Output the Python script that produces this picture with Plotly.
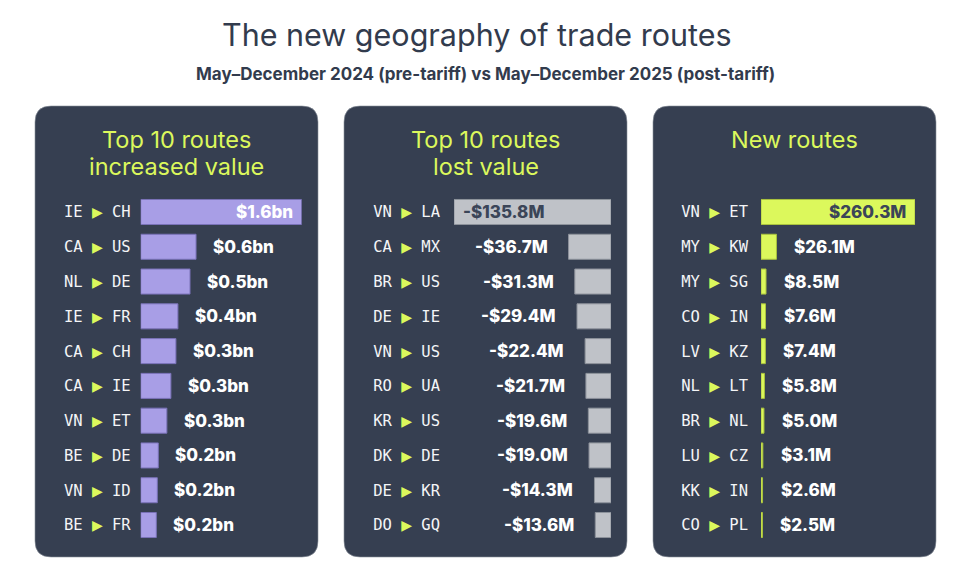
import plotly.graph_objects as go

W, H = 974, 584

# data
inc_from = ["IE", "CA", "NL", "IE", "CA", "CA", "VN", "BE", "VN", "BE"]
inc_to = ["CH", "US", "DE", "FR", "CH", "IE", "ET", "DE", "ID", "FR"]
inc_value_bn = [1.6, 0.55, 0.49, 0.37, 0.35, 0.30, 0.26, 0.175, 0.165, 0.155]

lost_from = ["VN", "CA", "BR", "DE", "VN", "RO", "KR", "DK", "DE", "DO"]
lost_to = ["LA", "MX", "US", "IE", "US", "UA", "US", "DE", "KR", "GQ"]
lost_value_m = [135.8, 36.7, 31.3, 29.4, 22.4, 21.7, 19.6, 19.0, 14.3, 13.6]

new_from = ["VN", "MY", "MY", "CO", "LV", "NL", "BR", "LU", "KK", "CO"]
new_to = ["ET", "KW", "SG", "IN", "KZ", "LT", "NL", "CZ", "IN", "PL"]
new_value_m = [260.3, 26.1, 8.5, 7.6, 7.4, 5.8, 5.0, 3.1, 2.6, 2.5]

PANEL_BG = "#363f51"
INK = "#323b4d"
LIME = "#dcf85c"
PURPLE = "#a89ee6"
GREY = "#bfc2c8"
VALUE_FONT = dict(family="Inter, Open Sans, sans-serif", size=17, weight=800)


def px_x(p):
    return p / W


def px_y(p):
    return 1 - p / H


def rounded_rect(x0, y0, x1, y1, r):
    # pixel coords in, paper-coord svg path out
    rx, ry = r / W, r / H
    a, b, c, d = px_x(x0), px_y(y1), px_x(x1), px_y(y0)
    return (f"M{a+rx},{b} L{c-rx},{b} Q{c},{b} {c},{b+ry} L{c},{d-ry} Q{c},{d} {c-rx},{d} "
            f"L{a+rx},{d} Q{a},{d} {a},{d-ry} L{a},{b+ry} Q{a},{b} {a+rx},{b} Z")


def route_ticks(src, dst):
    arrow = f"<span style='color:{LIME};font-family:DejaVu Sans;font-size:14px'>▶</span>"
    return [f"{s} {arrow} {d}" for s, d in zip(src, dst)]


rows = list(range(10))
ydom = [px_y(542.4), px_y(194.6)]

fig = go.Figure()

fig.add_trace(go.Bar(x=inc_value_bn, y=rows, orientation="h", width=0.72,
                     marker=dict(color=PURPLE, line=dict(color="#7a72b8", width=1)),
                     xaxis="x", yaxis="y", hoverinfo="skip"))
fig.add_trace(go.Bar(x=[-v for v in lost_value_m], y=rows, orientation="h", width=0.72,
                     marker=dict(color=GREY, line=dict(color="#8d929b", width=1)),
                     xaxis="x2", yaxis="y2", hoverinfo="skip"))
fig.add_trace(go.Bar(x=new_value_m, y=rows, orientation="h", width=0.72,
                     marker=dict(color=LIME, line=dict(color="#a9c23e", width=1)),
                     xaxis="x3", yaxis="y3", hoverinfo="skip"))

panels = [(35, 318), (344, 627), (653, 936)]
shapes = [dict(type="path", path=rounded_rect(x0, 106, x1, 557, 16), xref="paper", yref="paper",
               fillcolor=PANEL_BG, line=dict(color="#8a909a", width=0.6), layer="below")
          for x0, x1 in panels]

annotations = [
    dict(text="The new geography of trade routes", x=0.49, y=px_y(35), xref="paper", yref="paper",
         xanchor="center", yanchor="middle", showarrow=False,
         font=dict(family="Inter, sans-serif", size=30.5, color=INK)),
    dict(text="May–December 2024 (pre-tariff) vs May–December 2025 (post-tariff)", x=0.498, y=px_y(74),
         xref="paper", yref="paper", xanchor="center", yanchor="middle", showarrow=False,
         font=dict(family="Inter, sans-serif", size=17, weight=700, color=INK)),
]

titles = [("Top 10 routes", "increased value"), ("Top 10 routes", "lost value"), ("New routes", None)]
for (x0, x1), (l1, l2) in zip(panels, titles):
    cx = px_x((x0 + x1) / 2)
    annotations.append(dict(text=l1, x=cx, y=px_y(140), xref="paper", yref="paper", showarrow=False,
                            xanchor="center", yanchor="middle",
                            font=dict(family="Inter, sans-serif", size=23.5, color=LIME)))
    if l2:
        annotations.append(dict(text=l2, x=cx, y=px_y(166), xref="paper", yref="paper", showarrow=False,
                                xanchor="center", yanchor="middle",
                                font=dict(family="Inter, sans-serif", size=23.5, color=LIME)))

# value labels
for i, v in enumerate(inc_value_bn):
    first = i == 0
    annotations.append(dict(text=f"${v:.1f}bn", x=v, y=i, xref="x", yref="y", showarrow=False,
                            xanchor="right" if first else "left", yanchor="middle",
                            xshift=-7 if first else 15,
                            font=dict(VALUE_FONT, color="#ffffff")))
for i, v in enumerate(lost_value_m):
    first = i == 0
    annotations.append(dict(text=f"-${v:.1f}M", x=-v, y=i, xref="x2", yref="y2", showarrow=False,
                            xanchor="left" if first else "right", yanchor="middle",
                            xshift=7 if first else -19,
                            font=dict(VALUE_FONT, color="#3b4558" if first else "#ffffff")))
for i, v in enumerate(new_value_m):
    first = i == 0
    annotations.append(dict(text=f"${v:.1f}M", x=v, y=i, xref="x3", yref="y3", showarrow=False,
                            xanchor="right" if first else "left", yanchor="middle",
                            xshift=-7 if first else 16,
                            font=dict(VALUE_FONT, color="#3b4558" if first else "#ffffff")))

xbase = dict(showgrid=False, zeroline=False, showticklabels=False, showline=False, fixedrange=True)
ybase = dict(showgrid=False, zeroline=False, showline=False, fixedrange=True, domain=ydom,
             range=[9.5, -0.5], tickvals=rows, ticks="",
             tickfont=dict(family="DejaVu Sans Mono, monospace", size=15.5, color="#f4f5f7"))

fig.update_layout(
    width=W, height=H, margin=dict(l=0, r=0, t=0, b=0),
    paper_bgcolor="#ffffff", plot_bgcolor="rgba(0,0,0,0)",
    showlegend=False, barmode="overlay",
    xaxis=dict(xbase, domain=[px_x(140.7), px_x(301.7)], range=[0, 1.6], anchor="y"),
    xaxis2=dict(xbase, domain=[px_x(454), px_x(611)], range=[-135.8, 0], anchor="y2"),
    xaxis3=dict(xbase, domain=[px_x(761), px_x(915)], range=[0, 260.3], anchor="y3"),
    yaxis=dict(ybase, anchor="x", ticktext=route_ticks(inc_from, inc_to), ticklabelstandoff=9),
    yaxis2=dict(ybase, anchor="x2", ticktext=route_ticks(lost_from, lost_to), ticklabelstandoff=13),
    yaxis3=dict(ybase, anchor="x3", ticktext=route_ticks(new_from, new_to), ticklabelstandoff=12),
    shapes=shapes, annotations=annotations,
)

fig.write_html("out.html", config={"displayModeBar": False},
               post_script="document.body.style.margin='0';")
